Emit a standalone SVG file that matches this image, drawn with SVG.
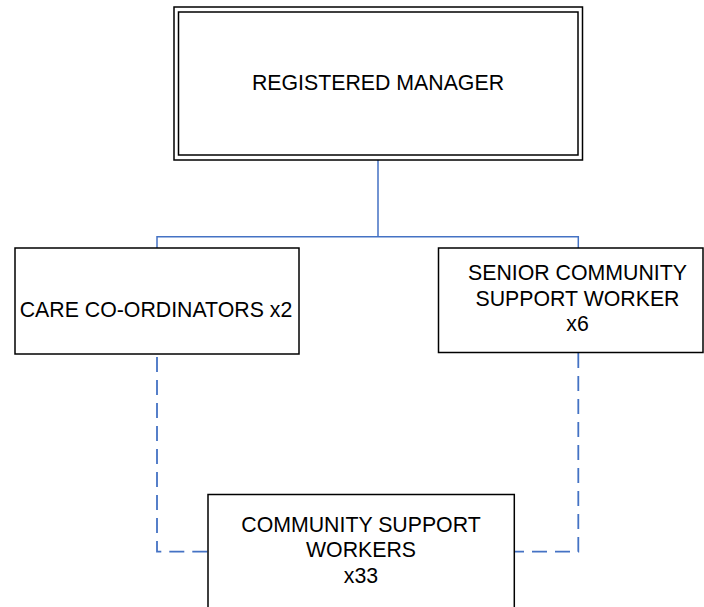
<svg xmlns="http://www.w3.org/2000/svg" width="704" height="607" viewBox="0 0 704 607">
<style>
.box{fill:#fff;stroke:#000;stroke-width:1.5}
.t{font-family:"Liberation Sans",Arial,sans-serif;font-size:21.3px;fill:#000;text-anchor:middle}
.c{fill:none;stroke:#4472C4;stroke-width:1.5}
.d{stroke-width:1.8;stroke-dasharray:15,8}
</style>
<rect width="704" height="607" fill="#fff"/>
<g id="connectors">
<path class="c" d="M378,160 V236.7 M157,248 V236.7 H578.3 V248"/>
<path class="c d" d="M157,357 V551.7 H208"/>
<path class="c d" d="M578.3,353 V551.7 H514"/>
</g>
<g id="registered-manager">
<rect class="box" x="174" y="7" width="408.5" height="153"/>
<rect class="box" x="178.5" y="12" width="399.5" height="143"/>
<text class="t" x="378" y="90">REGISTERED MANAGER</text>
</g>
<g id="care-coordinators">
<rect class="box" x="15" y="248" width="284" height="106"/>
<text class="t" x="156" y="316.5">CARE CO-ORDINATORS x2</text>
</g>
<g id="senior-csw">
<rect class="box" x="438.5" y="248" width="264.5" height="104.5"/>
<text class="t" x="577.5" y="280">SENIOR COMMUNITY</text>
<text class="t" x="577.5" y="305.7">SUPPORT WORKER</text>
<text class="t" x="577.5" y="331">x6</text>
</g>
<g id="csw">
<rect class="box" x="208" y="494.5" width="306.3" height="120"/>
<text class="t" x="361" y="531.7">COMMUNITY SUPPORT</text>
<text class="t" x="361" y="557.3">WORKERS</text>
<text class="t" x="361" y="583.3">x33</text>
</g>
</svg>
